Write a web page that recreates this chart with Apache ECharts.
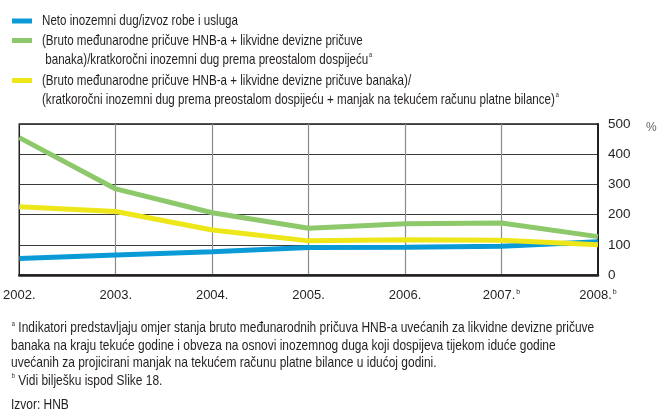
<!DOCTYPE html>
<html>
<head>
<meta charset="utf-8">
<script src="https://cdn.jsdelivr.net/npm/echarts@6/dist/echarts.min.js"></script>
<style>
  html, body { margin: 0; padding: 0; background: #fff; }
  #chart { width: 672px; height: 420px; }
</style>
</head>
<body>
<div id="chart"></div>
<script>
// Data
const years = ["2002.", "2003.", "2004.", "2005.", "2006.", "2007.", "2008."]
const yearSup = ["", "", "", "", "", "b", "b"]
const netoDug = [55, 66, 77, 91, 92, 95, 110]
const pricuveKratkorocni = [455, 285, 206, 155, 170, 172, 127]
const pricuveSManjkom = [226, 210, 149, 113, 117, 115, 100]
const yTicks = [0, 100, 200, 300, 400, 500]

const FONT = "'Liberation Sans', Arial, sans-serif"
const TEXT = "#231f20"
const BLUE = "#0a9ad6"
const GREEN = "#8dc96b"
const YELLOW = "#ede619"

const sup = { fontSize: 7, verticalAlign: "top", padding: [0, 0, 0, 1], fontFamily: FONT, color: TEXT }

const chart = echarts.init(document.getElementById("chart"))

// legend drawn as graphic so the swatch sits on the first text line
const legendItems = [
  { color: BLUE, y: 21, lines: ["Neto inozemni dug/izvoz robe i usluga"] },
  {
    color: GREEN,
    y: 40.5,
    lines: [
      "(Bruto međunarodne pričuve HNB-a + likvidne devizne pričuve",
      " banaka)/kratkoročni inozemni dug prema preostalom dospijeću{s|a}",
    ],
  },
  {
    color: YELLOW,
    y: 80.5,
    lines: [
      "(Bruto međunarodne pričuve HNB-a + likvidne devizne pričuve banaka)/",
      "(kratkoročni inozemni dug prema preostalom dospijeću + manjak na tekućem računu platne bilance){s|a}",
    ],
  },
]

const graphic = []
legendItems.forEach((item) => {
  graphic.push({
    type: "rect",
    x: 12,
    y: item.y - 2.5,
    shape: { width: 20, height: 5 },
    style: { fill: item.color },
  })
  item.lines.forEach((line, i) => {
    graphic.push({
      type: "text",
      x: 42,
      y: item.y + i * 19,
      scaleX: 0.8,
      style: {
        text: line,
        font: "14.5px " + FONT,
        fill: TEXT,
        verticalAlign: "middle",
        rich: { s: sup },
      },
    })
  })
})

const notes = [
  { y: 328, text: "{s|a} Indikatori predstavljaju omjer stanja bruto međunarodnih pričuva HNB-a uvećanih za likvidne devizne pričuve" },
  { y: 345.5, text: "banaka na kraju tekuće godine i obveza na osnovi inozemnog duga koji dospijeva tijekom iduće godine" },
  { y: 363, text: "uvećanih za projicirani manjak na tekućem računu platne bilance u idućoj godini." },
  { y: 380.5, text: "{s|b} Vidi bilješku ispod Slike 18." },
  { y: 405, text: "Izvor: HNB" },
]
notes.forEach((n) => {
  graphic.push({
    type: "text",
    x: 11,
    y: n.y,
    scaleX: 0.825,
    style: {
      text: n.text,
      font: "14.5px " + FONT,
      fill: TEXT,
      verticalAlign: "middle",
      rich: { s: sup },
    },
  })
})

graphic.push({
  type: "text",
  x: 646,
  y: 128,
  style: { text: "%", font: "12px " + FONT, fill: "#666", verticalAlign: "middle" },
})

const option = {
  animation: false,
  textStyle: { fontFamily: FONT },
  graphic: graphic,
  grid: {
    left: 12,
    right: 74,
    top: 124,
    bottom: 145,
    show: true,
    borderColor: "#231f20",
    borderWidth: 1.5,
  },
  xAxis: {
    type: "category",
    data: years,
    boundaryGap: false,
    axisLine: { show: true, lineStyle: { color: "#231f20", width: 2.5 } },
    axisTick: { show: false },
    axisLabel: {
      margin: 14,
      fontSize: 13,
      color: TEXT,
      fontFamily: FONT,
      formatter: (v, i) => (yearSup[i] ? v + "{s|" + yearSup[i] + "}" : v),
      rich: { s: sup },
    },
    splitLine: {
      show: true,
      interval: (i) => i > 0 && i < years.length - 1,
      lineStyle: { color: "#8a8a8a", width: 1.2 },
    },
  },
  yAxis: {
    type: "value",
    position: "right",
    min: yTicks[0],
    max: yTicks[yTicks.length - 1],
    interval: 100,
    axisLine: { show: true, lineStyle: { color: "#231f20", width: 2 } },
    axisTick: { show: false },
    axisLabel: { margin: 10, fontSize: 13.5, color: TEXT, fontFamily: FONT },
    splitLine: { show: true, lineStyle: { color: "#3a3a3a", width: 1.2 } },
  },
  series: [
    {
      name: "Neto inozemni dug/izvoz robe i usluga",
      type: "line",
      data: netoDug,
      symbol: "none",
      lineStyle: { color: BLUE, width: 5 },
      z: 3,
    },
    {
      name: "(Bruto međunarodne pričuve HNB-a + likvidne devizne pričuve banaka)/kratkoročni inozemni dug prema preostalom dospijeću",
      type: "line",
      data: pricuveKratkorocni,
      symbol: "none",
      lineStyle: { color: GREEN, width: 5 },
      z: 3,
    },
    {
      name: "(Bruto međunarodne pričuve HNB-a + likvidne devizne pričuve banaka)/(kratkoročni inozemni dug prema preostalom dospijeću + manjak na tekućem računu platne bilance)",
      type: "line",
      data: pricuveSManjkom,
      symbol: "none",
      lineStyle: { color: YELLOW, width: 5 },
      z: 4,
    },
  ],
}

chart.setOption(option)
</script>
</body>
</html>
